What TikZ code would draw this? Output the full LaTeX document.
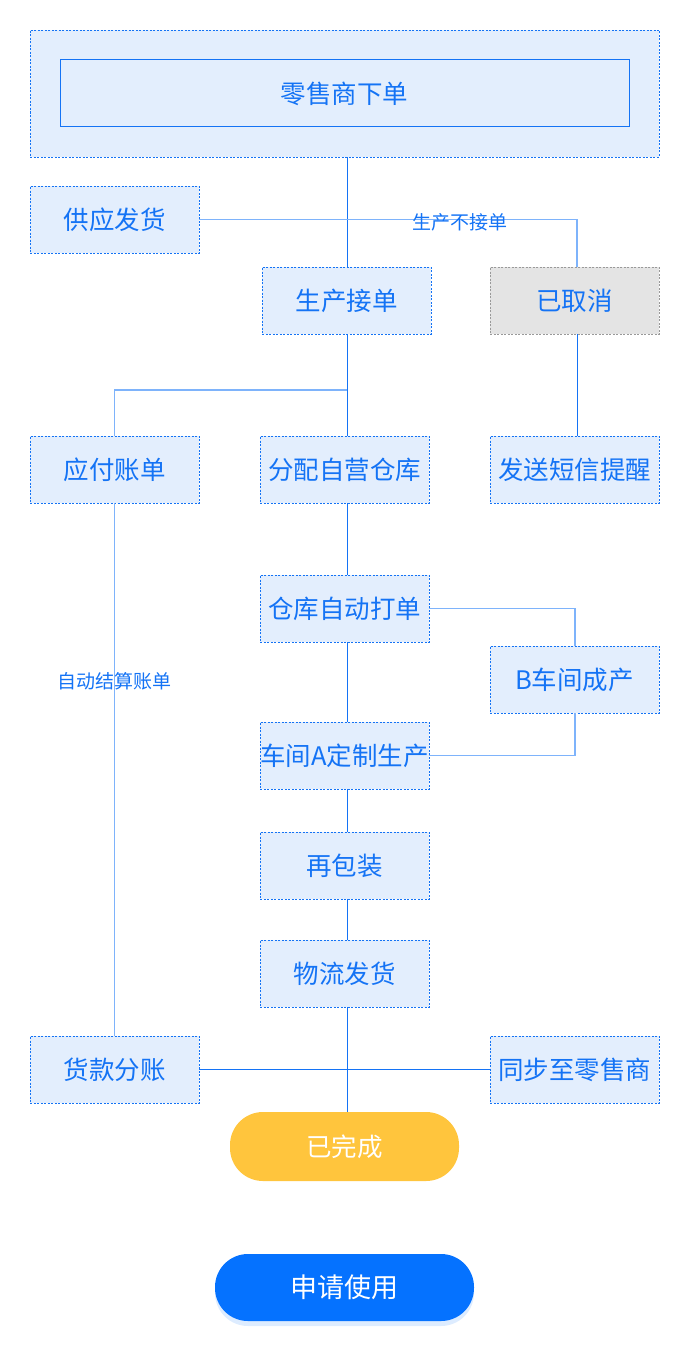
\documentclass[tikz,border=0pt]{standalone}
\usepackage{fontspec}
\setmainfont{Noto Sans CJK SC}
\usetikzlibrary{shadows}
\definecolor{flowblue}{HTML}{1473F5}
\definecolor{flowfill}{HTML}{E3EEFD}
\definecolor{flowlight}{HTML}{7EB3FB}
\definecolor{flowgray}{HTML}{E4E4E4}
\definecolor{grayline}{HTML}{999999}
\definecolor{doneyellow}{HTML}{FFC53D}
\definecolor{applyblue}{HTML}{0572FF}

\begin{document}
\begin{tikzpicture}[x=1pt,y=-1pt,
    step node/.style={draw=flowblue,fill=flowfill,dash pattern=on 2pt off 1.5pt,
        line width=0.8pt,text=flowblue,minimum width=169pt,minimum height=67pt,
        inner sep=0pt,font=\fontsize{25.5}{28}\selectfont},
    gray node/.style={step node,draw=grayline,fill=flowgray},
    pill node/.style={rounded corners=33pt,text=white,inner sep=0pt,
        font=\fontsize{25.5}{28}\selectfont},
    thin line/.style={draw=flowblue,line width=1pt},
    light line/.style={draw=flowlight,line width=1.6pt},
    note/.style={text=flowblue,inner sep=0pt,font=\fontsize{19}{22}\selectfont}]
	\useasboundingbox (0,0) rectangle (690,1362);

	\node[step node,minimum width=629pt,minimum height=127pt] (outer) at (344.5,93.5) {};
	\node[step node,solid,line width=1pt,minimum width=569pt] (order) at (344.5,93.5) {零售商下单};
	\node[step node] (supply) at (114.5,219.5) {供应发货};
	\node[step node] (accept) at (346.5,300.5) {生产接单};
	\node[gray node] (cancel) at (574.5,300.5) {已取消};
	\node[step node] (payable) at (114.5,469.5) {应付账单};
	\node[step node] (assign) at (344.5,469.5) {分配自营仓库};
	\node[step node] (sms) at (574.5,469.5) {发送短信提醒};
	\node[step node] (print) at (344.5,608.5) {仓库自动打单};
	\node[step node] (shopB) at (574.5,679.5) {B车间成产};
	\node[step node] (shopA) at (344.5,755.5) {车间A定制生产};
	\node[step node] (repack) at (344.5,865.5) {再包装};
	\node[step node] (ship) at (344.5,973.5) {物流发货};
	\node[step node] (split) at (114.5,1069.5) {货款分账};
	\node[step node] (sync) at (574.5,1069.5) {同步至零售商};
	\node[pill node,fill=doneyellow,minimum width=229pt,minimum height=69pt] (done) at (344.5,1146.5) {已完成};
	\node[pill node,fill=applyblue,minimum width=259pt,minimum height=67pt,
	      font=\fontsize{27}{30}\selectfont,
	      drop shadow={shadow xshift=0pt,shadow yshift=-5pt,fill=applyblue!45,opacity=0.3}] (apply) at (344.5,1287.5) {申请使用};

	\coordinate (spine) at (347,0);
	\coordinate (fork) at (347,390);

	% main line
	\draw[thin line] (spine |- outer.south) -- (spine |- accept.north);
	\draw[thin line] (spine |- accept.south) -- (spine |- assign.north);
	\draw[thin line] (spine |- assign.south) -- (spine |- print.north);
	\draw[thin line] (spine |- print.south) -- (spine |- shopA.north);
	\draw[thin line] (spine |- shopA.south) -- (spine |- repack.north);
	\draw[thin line] (spine |- repack.south) -- (spine |- ship.north);
	\draw[thin line] (spine |- ship.south) -- (spine |- done.north);

	% side branches
	\draw[light line] (supply.east) -| node[note,pos=0.345,yshift=-3pt] (reject) {生产不接单} (577,0 |- cancel.north);
	\draw[thin line] (577,0 |- cancel.south) -- (577,0 |- sms.north);
	\draw[light line] (fork) -| (payable.north);
	\draw[light line] (payable.south) -- node[note,pos=0.334] (settle) {自动结算账单} (split.north);
	\draw[light line] (print.east) -| (575,0 |- shopB.north);
	\draw[light line] (575,0 |- shopB.south) |- (shopA.east);
	\draw[thin line] (split.east) -- (sync.west);
\end{tikzpicture}
\end{document}
